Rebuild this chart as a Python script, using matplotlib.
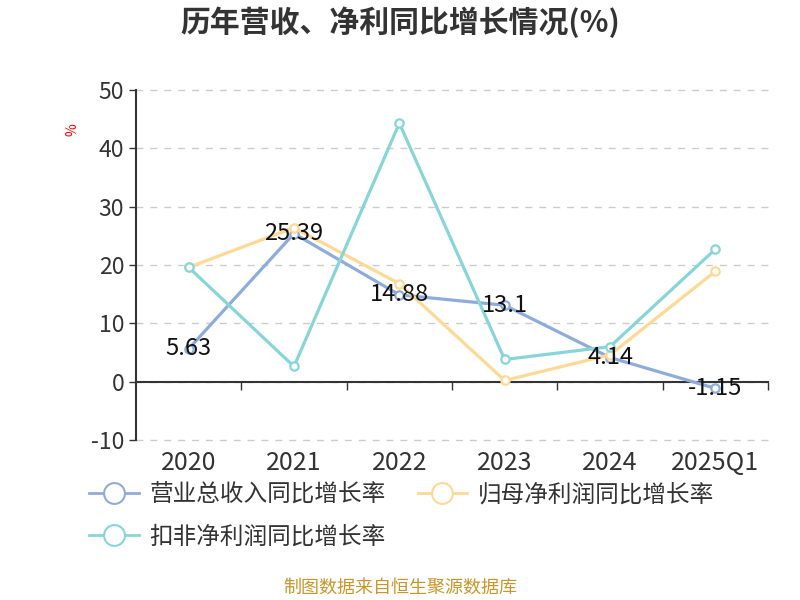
import matplotlib
matplotlib.use("Agg")
import matplotlib.pyplot as plt
from matplotlib.lines import Line2D

plt.rcParams["font.family"] = ["Noto Sans CJK SC", "DejaVu Sans"]
plt.rcParams["axes.unicode_minus"] = False

# ─── Data ─────────────────────────────────────────────────────────────
years = ["2020", "2021", "2022", "2023", "2024", "2025Q1"]
revenue_growth = [5.63, 25.39, 14.88, 13.1, 4.14, -1.15]
net_profit_growth = [19.6, 26.4, 16.8, 0.2, 4.6, 18.9]
deducted_profit_growth = [19.6, 2.6, 44.3, 3.8, 6.0, 22.7]

series_names = ["营业总收入同比增长率", "归母净利润同比增长率", "扣非净利润同比增长率"]
colors = ["#8eacdb", "#fdd995", "#87d5d8"]
yticks = [-10, 0, 10, 20, 30, 40, 50]

# ─── Plot ─────────────────────────────────────────────────────────────
fig = plt.figure(figsize=(8, 6), dpi=100)
ax = fig.add_axes([0.17, 0.2667, 0.79, 0.5833])

x = list(range(len(years)))
handles = []
for vals, name, c in zip([revenue_growth, net_profit_growth, deducted_profit_growth],
                         series_names, colors):
    ax.plot(x, vals, color=c, linewidth=2.3, marker="o", markersize=6,
            markerfacecolor="white", markeredgecolor=c, markeredgewidth=1.6,
            zorder=3)
    handles.append(Line2D([], [], color=c, linewidth=2, marker="o", markersize=15,
                          markerfacecolor="white", markeredgecolor=c,
                          markeredgewidth=1.5))

# value labels on revenue series
for xi, v in zip(x, revenue_growth):
    ax.text(xi, v, f"{v}", ha="center", va="center", fontsize=17,
            color="#111111", zorder=4)

ax.set_xlim(-0.5, len(years) - 0.5)
ax.set_ylim(-10, 50)
ax.set_yticks(yticks)
ax.tick_params(axis="y", labelsize=16.5, colors="#333333", length=5, width=1)
ax.yaxis.grid(True, linestyle=(0, (5, 5)), color="#cccccc", linewidth=1)
for gl in ax.get_ygridlines():
    gl.set_clip_on(False)
ax.set_axisbelow(True)

for s in ["top", "right"]:
    ax.spines[s].set_visible(False)
ax.spines["left"].set_color("#333333")
ax.spines["left"].set_linewidth(1.5)
ax.spines["bottom"].set_position(("data", 0))
ax.spines["bottom"].set_color("#333333")
ax.spines["bottom"].set_linewidth(1.5)

# ticks at band boundaries on zero line, no labels there
ax.set_xticks([i + 0.5 for i in x])
ax.set_xticklabels([])
ax.tick_params(axis="x", length=6, width=1, colors="#333333", direction="out")

# category labels at the bottom
sec = ax.secondary_xaxis("bottom")
sec.set_xticks(x)
sec.set_xticklabels(years)
sec.tick_params(length=0, labelsize=18, colors="#333333", pad=7)
sec.spines["bottom"].set_visible(False)

ax.text(-0.101, 0.886, "%", transform=ax.transAxes, rotation=90, color="red",
        fontsize=10, ha="center", va="center")

fig.text(0.5, 0.963, "历年营收、净利同比增长情况(%)", ha="center", va="center",
         fontsize=21.5, fontweight="bold", color="#333333")

order = [0, 2, 1]
fig.legend([handles[i] for i in order], [series_names[i] for i in order],
           ncol=2, loc="upper left", bbox_to_anchor=(0.091, 0.222),
           frameon=False, fontsize=17, labelcolor="#333333",
           handlelength=2.1, handletextpad=0.45, columnspacing=1.35,
           labelspacing=0.8, borderpad=0.2)

fig.text(0.5, 0.02, "制图数据来自恒生聚源数据库", ha="center", va="center",
         fontsize=13, color="#c8962a")

fig.savefig("out.png", dpi=100)
